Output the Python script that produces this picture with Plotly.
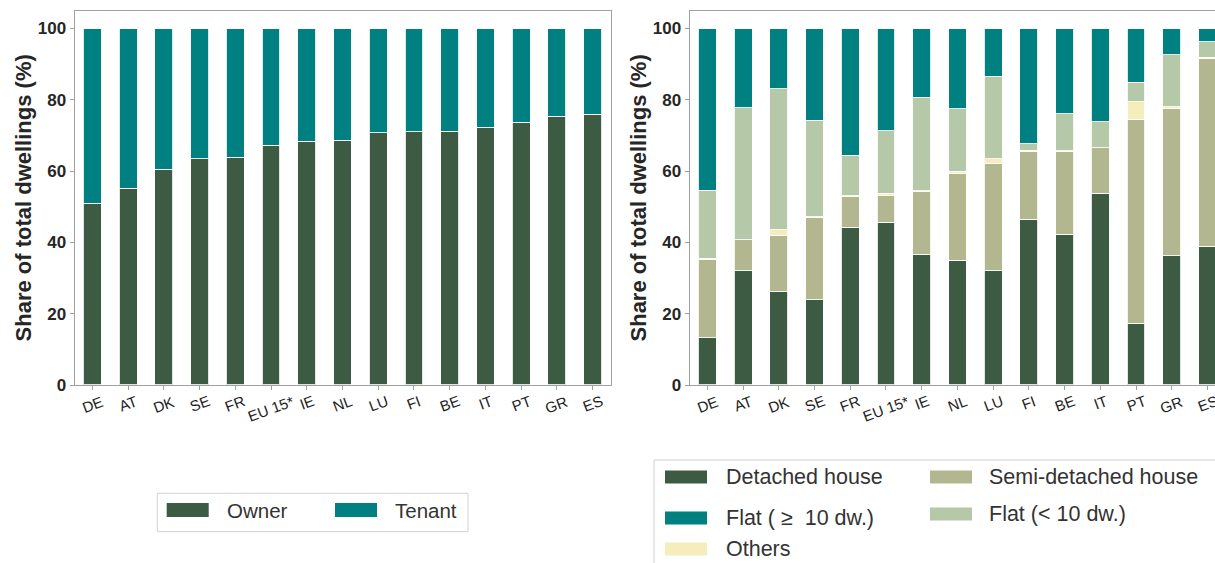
import plotly.graph_objects as go

# ---------------- data ----------------
countries = ["DE", "AT", "DK", "SE", "FR", "EU 15*", "IE", "NL", "LU", "FI", "BE", "IT", "PT", "GR", "ES"]

owner = [51.0, 55.2, 60.5, 63.5, 63.9, 67.2, 68.4, 68.7, 70.8, 71.0, 71.2, 72.3, 73.7, 75.4, 76.0]
tenant = [49.0, 44.8, 39.5, 36.5, 36.1, 32.8, 31.6, 31.3, 29.2, 29.0, 28.8, 27.7, 26.3, 24.6, 24.0]

detached = [13.3, 32.0, 26.2, 23.9, 44.2, 45.7, 36.7, 35.0, 32.0, 46.5, 42.3, 53.8, 17.3, 36.2, 38.9]
semi_detached = [22.0, 8.7, 15.8, 23.2, 8.6, 7.4, 17.5, 24.2, 30.2, 18.9, 23.2, 12.7, 57.3, 41.3, 52.7]
others = [0.2, 0.1, 1.5, 0.1, 0.3, 0.7, 0.3, 0.7, 1.3, 0.5, 0.2, 0.1, 4.8, 0.6, 0.3]
flat_small = [19.2, 37.0, 39.6, 27.1, 11.4, 17.5, 26.2, 17.6, 23.1, 1.8, 10.4, 7.2, 5.5, 14.5, 4.4]
flat_large = [45.3, 22.2, 16.9, 25.7, 35.5, 28.7, 19.3, 22.5, 13.4, 32.3, 23.9, 26.2, 15.1, 7.4, 3.7]

y_ticks = [0, 20, 40, 60, 80, 100]
y_title = "Share of total dwellings (%)"

left_legend = ["Owner", "Tenant"]
right_legend = ["Detached house", "Semi-detached house", "Flat ( ≥\u00a0 10 dw.)", "Flat (< 10 dw.)", "Others"]

# ---------------- style ----------------
W, H = 1215, 573          # page is photographed slightly squeezed vertically
REF_W, REF_H = 1215, 563  # reference picture size used for placement fractions
C_DET = "#3D5A42"
C_TEAL = "#008080"
C_SEMI = "#B3B78F"
C_FLATS = "#B5C8A8"
C_OTH = "#F5EDBC"
TXT = "#262626"
FRAME = "#a0a0a0"
FONT = "Liberation Sans, Arial, sans-serif"


def px(xp):
    return xp / REF_W


def py(yp):
    return 1 - yp / REF_H


ybot, ytop = py(385), py(10.7)
dom1 = [px(74.5), px(610.5)]
dom2 = [px(689.5), 1.0]

fig = go.Figure()
edge = dict(color="rgba(255,255,255,0.85)", width=1)


def add_bar(vals, color, name, xa, ya):
    fig.add_trace(go.Bar(x=countries, y=vals, name=name, marker=dict(color=color, line=edge),
                         width=0.5, xaxis=xa, yaxis=ya, showlegend=False))


add_bar(owner, C_DET, "Owner", "x", "y")
add_bar(tenant, C_TEAL, "Tenant", "x", "y")
add_bar(detached, C_DET, "Detached house", "x2", "y2")
add_bar(semi_detached, C_SEMI, "Semi-detached house", "x2", "y2")
add_bar(others, C_OTH, "Others", "x2", "y2")
add_bar(flat_small, C_FLATS, "Flat (< 10 dw.)", "x2", "y2")
add_bar(flat_large, C_TEAL, "Flat (≥ 10 dw.)", "x2", "y2")

xcommon = dict(type="category", showgrid=False, zeroline=False, showline=True, linecolor=FRAME,
               linewidth=1, ticks="outside", ticklen=4, tickcolor=FRAME, showticklabels=False)


def ycfg(standoff, mirror, anchor):
    return dict(range=[0, 105], tickvals=y_ticks, showgrid=False, zeroline=False, showline=True,
                linecolor=FRAME, linewidth=1, ticks="outside", ticklen=4, tickcolor=FRAME,
                tickfont=dict(family=FONT, size=17, color=TXT, weight="bold"),
                title=dict(text=y_title, font=dict(family=FONT, size=22, color=TXT, weight="bold"),
                           standoff=standoff),
                domain=[ybot, ytop], mirror=mirror, anchor=anchor)


fig.update_layout(
    width=W, height=H, margin=dict(l=0, r=0, t=0, b=0),
    paper_bgcolor="white", plot_bgcolor="white", barmode="stack",
    font=dict(family=FONT, color=TXT),
    xaxis=dict(xcommon, domain=dom1, range=[-0.5, 14.5], anchor="y", mirror=True),
    yaxis=ycfg(0, True, "x"),
    xaxis2=dict(xcommon, domain=dom2, range=[-0.5, 14.21], anchor="y2", mirror=True),
    yaxis2=ycfg(0, False, "x2"),
)

annotations = []
# rotated category labels, centred under each bar
for xa in ["x", "x2"]:
    for c in countries:
        annotations.append(dict(x=c, xref=xa, y=ybot, yref="paper", yanchor="top", xanchor="center",
                                yshift=-5, text=c, textangle=-20, showarrow=False,
                                font=dict(family=FONT, size=15, color="#1e1e1e")))

shapes = []
LEG_FONT_L = dict(family=FONT, size=20.5, color="#333333")
LEG_FONT_R = dict(family=FONT, size=21.5, color="#333333")

# left legend box
shapes.append(dict(type="rect", xref="paper", yref="paper", x0=px(157.3), x1=px(468), y0=py(531.7), y1=py(493.3),
                   line=dict(color="#d0d0d0", width=1), fillcolor="white", layer="above"))
# right legend box (cut off by figure edge)
shapes.append(dict(type="rect", xref="paper", yref="paper", x0=px(654), x1=px(1230), y0=py(585), y1=py(460),
                   line=dict(color="#d0d0d0", width=1), fillcolor="white", layer="above"))

left_items = [(left_legend[0], C_DET, 166.7, 225, 510), (left_legend[1], C_TEAL, 335, 393, 510)]
right_items = [
    (right_legend[0], C_DET, 665, 724, 477),
    (right_legend[1], C_SEMI, 930, 987, 477),
    (right_legend[2], C_TEAL, 665, 724, 518),
    (right_legend[3], C_FLATS, 930, 987, 514),
    (right_legend[4], C_OTH, 665, 724, 549),
]
for name, col, sx, tx, cy in left_items:
    shapes.append(dict(type="rect", xref="paper", yref="paper", x0=px(sx), x1=px(sx + 42), y0=py(cy + 7),
                       y1=py(cy - 7), line=dict(width=0), fillcolor=col, layer="above"))
    annotations.append(dict(x=px(tx), y=py(cy), xref="paper", yref="paper", xanchor="left", yanchor="middle",
                            text=name, showarrow=False, font=LEG_FONT_L))
for name, col, sx, tx, cy in right_items:
    shapes.append(dict(type="rect", xref="paper", yref="paper", x0=px(sx), x1=px(sx + 42), y0=py(cy + 6.5),
                       y1=py(cy - 6.5), line=dict(width=0), fillcolor=col, layer="above"))
    annotations.append(dict(x=px(tx), y=py(cy), xref="paper", yref="paper", xanchor="left", yanchor="middle",
                            text=name, showarrow=False, font=LEG_FONT_R))

fig.update_layout(annotations=annotations, shapes=shapes)
fig.write_html("out.html", config={"displayModeBar": False},
               post_script="document.body.style.margin='0px';document.body.style.overflow='hidden';")
